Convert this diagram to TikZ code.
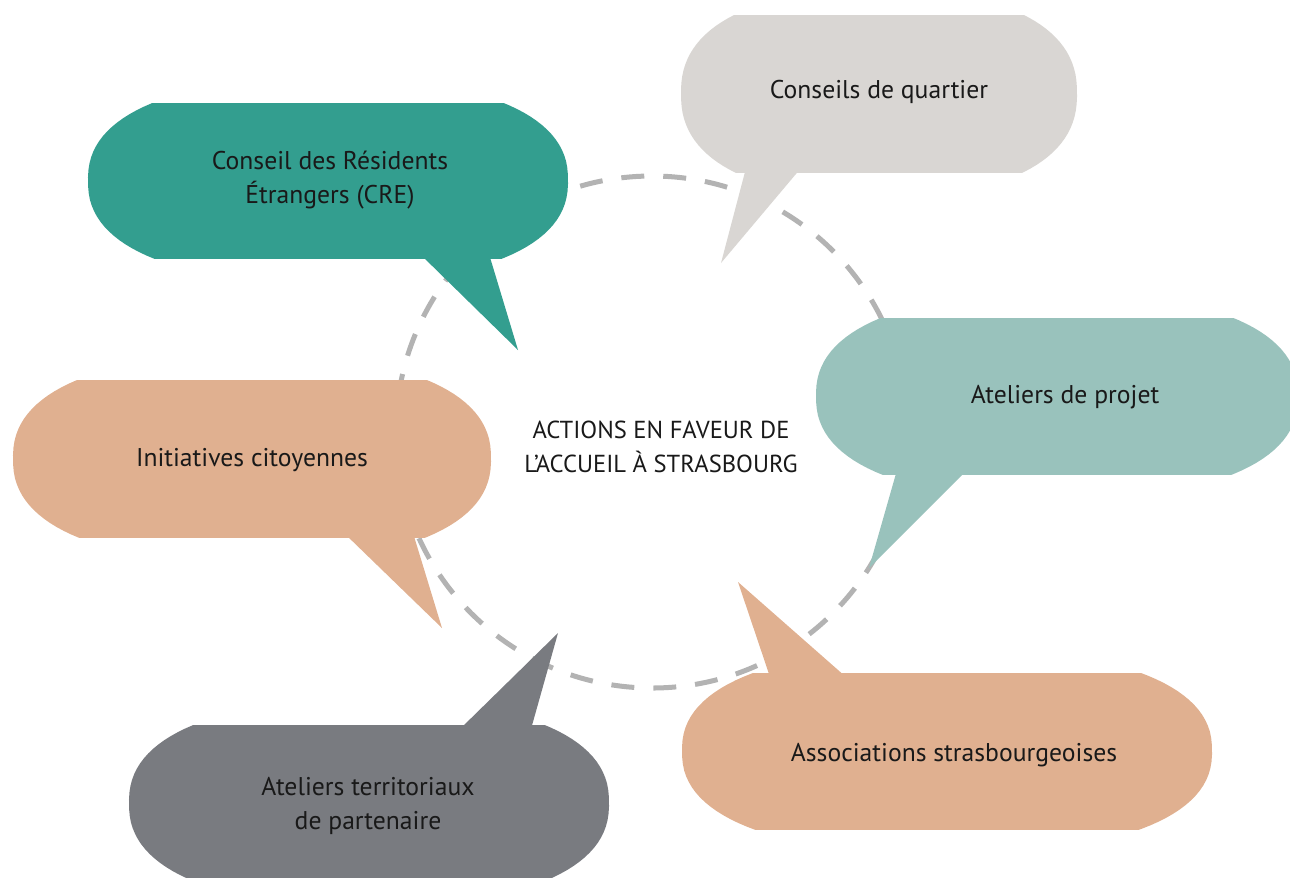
\documentclass[tikz,border=0pt]{standalone}
\usepackage{fontspec}
\setmainfont{PT Sans}
\definecolor{creteal}{HTML}{339E8F}
\definecolor{quartiergrey}{HTML}{D9D6D3}
\definecolor{projetteal}{HTML}{99C2BC}
\definecolor{peach}{HTML}{E0B090}
\definecolor{terrgrey}{HTML}{797B80}
\definecolor{ringgrey}{HTML}{B3B3B3}
\begin{document}
\begin{tikzpicture}[
  x=0.02cm,y=-0.02cm,
  txt/.style={align=center,font=\fontsize{14.6}{19}\selectfont,text=black!90},
  ring/.style={draw=ringgrey,line width=2.85pt,dash pattern=on 0.46cm off 0.38cm},
  blob/.style={domain=1:361,samples=121,variable=\t}
]
\useasboundingbox (0,0) rectangle (1290,877);

% --- dashed ring (behind the bubbles) ---
\draw[ring] (652,432) circle [radius=256];

% --- Bubbles: squircle cut flat at top and bottom, plus a tail ---
% Conseils de quartier
\begin{scope}
  \clip (0,15) rectangle (1290,172);
  \fill[quartiergrey] plot[blob] ({879+198*sign(cos(\t))*abs(cos(\t))^0.85},{93.5+103.6*sign(sin(\t))*abs(sin(\t))^0.85}) -- cycle;
\end{scope}
\fill[quartiergrey] (746,168) -- (721,263) -- (801,168) -- cycle;

% Ateliers territoriaux
\begin{scope}
  \clip (0,725) rectangle (1290,881);
  \fill[terrgrey] plot[blob] ({369+240*sign(cos(\t))*abs(cos(\t))^0.85},{803+103*sign(sin(\t))*abs(sin(\t))^0.85}) -- cycle;
\end{scope}
\fill[terrgrey] (460,729) -- (558,633) -- (531,729) -- cycle;

% Ateliers de projet
\begin{scope}
  \clip (0,318) rectangle (1290,474);
  \fill[projetteal] plot[blob] ({1057+241*sign(cos(\t))*abs(cos(\t))^0.85},{396+103*sign(sin(\t))*abs(sin(\t))^0.85}) -- cycle;
\end{scope}
\fill[projetteal] (897,470) -- (869,568) -- (967,470) -- cycle;

% Conseil des Residents Etrangers
\begin{scope}
  \clip (0,103) rectangle (1290,258);
  \fill[creteal] plot[blob] ({328+240*sign(cos(\t))*abs(cos(\t))^0.85},{180.5+102.3*sign(sin(\t))*abs(sin(\t))^0.85}) -- cycle;
\end{scope}
\fill[creteal] (420,254) -- (518,350) -- (489,254) -- cycle;

% Initiatives citoyennes
\begin{scope}
  \clip (0,380) rectangle (1290,537);
  \fill[peach] plot[blob] ({252+239*sign(cos(\t))*abs(cos(\t))^0.85},{458.5+103.6*sign(sin(\t))*abs(sin(\t))^0.85}) -- cycle;
\end{scope}
\fill[peach] (344,533) -- (442,628) -- (413,533) -- cycle;

% Associations strasbourgeoises
\begin{scope}
  \clip (0,673) rectangle (1290,829);
  \fill[peach] plot[blob] ({947+265*sign(cos(\t))*abs(cos(\t))^0.85},{751+103*sign(sin(\t))*abs(sin(\t))^0.85}) -- cycle;
\end{scope}
\fill[peach] (770,677) -- (738,582) -- (846,677) -- cycle;

% --- Texts ---
\node[txt,font=\fontsize{14}{19}\selectfont] (centre) at (661,447) {ACTIONS EN FAVEUR DE\\L’ACCUEIL À STRASBOURG};
\node[txt] (quartier)     at (879,92)  {Conseils de quartier};
\node[txt] (cre)          at (330,180) {Conseil des Résidents\\Étrangers (CRE)};
\node[txt] (projet)       at (1065,397) {Ateliers de projet};
\node[txt] (initiatives)  at (252,460) {Initiatives citoyennes};
\node[txt] (territoriaux) at (368,806) {Ateliers territoriaux\\de partenaire};
\node[txt] (associations) at (954,755) {Associations strasbourgeoises};

\end{tikzpicture}
\end{document}
